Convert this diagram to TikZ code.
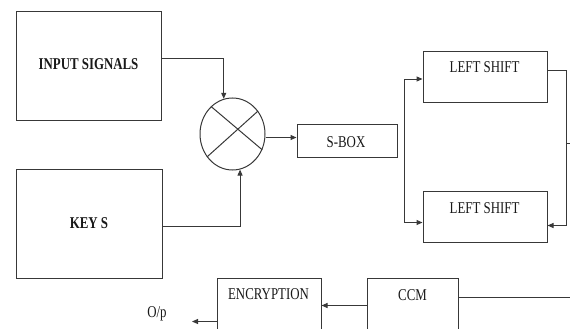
\documentclass[tikz,border=0pt]{standalone}
\usepackage{fontspec}
\newfontfamily\tmfont[FakeStretch=0.78]{Liberation Serif}
\usetikzlibrary{arrows.meta,shapes.geometric}
\begin{document}
\begin{tikzpicture}[x=1pt,y=-1pt,
  ln/.style={draw=black!78,line width=1pt},
  blk/.style={ln,rectangle,inner sep=0pt,fill=white},
  arr/.style={ln,-{Triangle[length=6pt,width=5pt]}},
  darr/.style={ln,{Triangle[length=6pt,width=5pt]}-{Triangle[length=6pt,width=5pt]}},
  txt/.style={anchor=base,inner sep=0pt,text=black!90,font=\tmfont\fontsize{16.5}{18}\selectfont},
  btxt/.style={txt,font=\tmfont\bfseries\fontsize{16.5}{18}\selectfont}]
\useasboundingbox (0,0) rectangle (570,329);
\clip (0,0) rectangle (570,329);
% blocks
\node[blk,minimum width=145,minimum height=108] (inp) at (88.5,66) {};
\node[blk,minimum width=146,minimum height=109] (keys) at (89,223.5) {};
\node[ln,ellipse,inner sep=0pt,minimum width=65,minimum height=72] (mix) at (232.5,134) {};
\node[blk,minimum width=100,minimum height=33] (sbox) at (347,140.5) {};
\node[blk,minimum width=124,minimum height=50] (ls1) at (485,77) {};
\node[blk,minimum width=124,minimum height=51] (ls2) at (485,216.5) {};
\node[blk,minimum width=104,minimum height=62] (enc) at (269,309) {};
\node[blk,minimum width=91,minimum height=62] (ccm) at (412.5,309) {};
% texts
\node[btxt] (tinp) at (88.5,70) {INPUT SIGNALS};
\node[btxt] (tkeys) at (89,228) {KEY S};
\node[txt] (tsbox) at (346,147) {S-BOX};
\node[txt] (tls1) at (484.5,73) {LEFT SHIFT};
\node[txt] (tls2) at (484.5,213) {LEFT SHIFT};
\node[txt] (tenc) at (268.5,299) {ENCRYPTION};
\node[txt] (tccm) at (412.5,300) {CCM};
\node[txt] (top) at (157,317) {O/p};
% cross in mixer
\draw[ln] (mix.128) -- (mix.-28);
\draw[ln] (mix.222) -- (mix.42);
% coordinates
\coordinate (rb) at (566,143);
\coordinate (redge) at (572,143);
\coordinate (bedge) at (572,297);
\coordinate (opend) at (192,321.5);
% connectors
\draw[arr] ([yshift=7]inp.east) -| (mix.104);
\draw[arr] ([yshift=-3]keys.east) -| (mix.-78);
\draw[arr] ([yshift=-3.5]mix.east) -- ([yshift=3]sbox.west);
\draw[darr] ([yshift=-2]ls1.west) -- ++(-18,0) |- ([yshift=-6]ls2.west);
\draw[arr] ([yshift=6]ls1.east) -- ++(19,0) |- ([yshift=-9]ls2.east);
\draw[ln] (rb) -- (redge);
\draw[ln] ([yshift=12]ccm.east) -- (bedge);
\draw[arr] ([yshift=3.5]ccm.west) -- ([yshift=3.5]enc.east);
\draw[arr] ([yshift=-12.5]enc.west) -- (opend);
\end{tikzpicture}
\end{document}
